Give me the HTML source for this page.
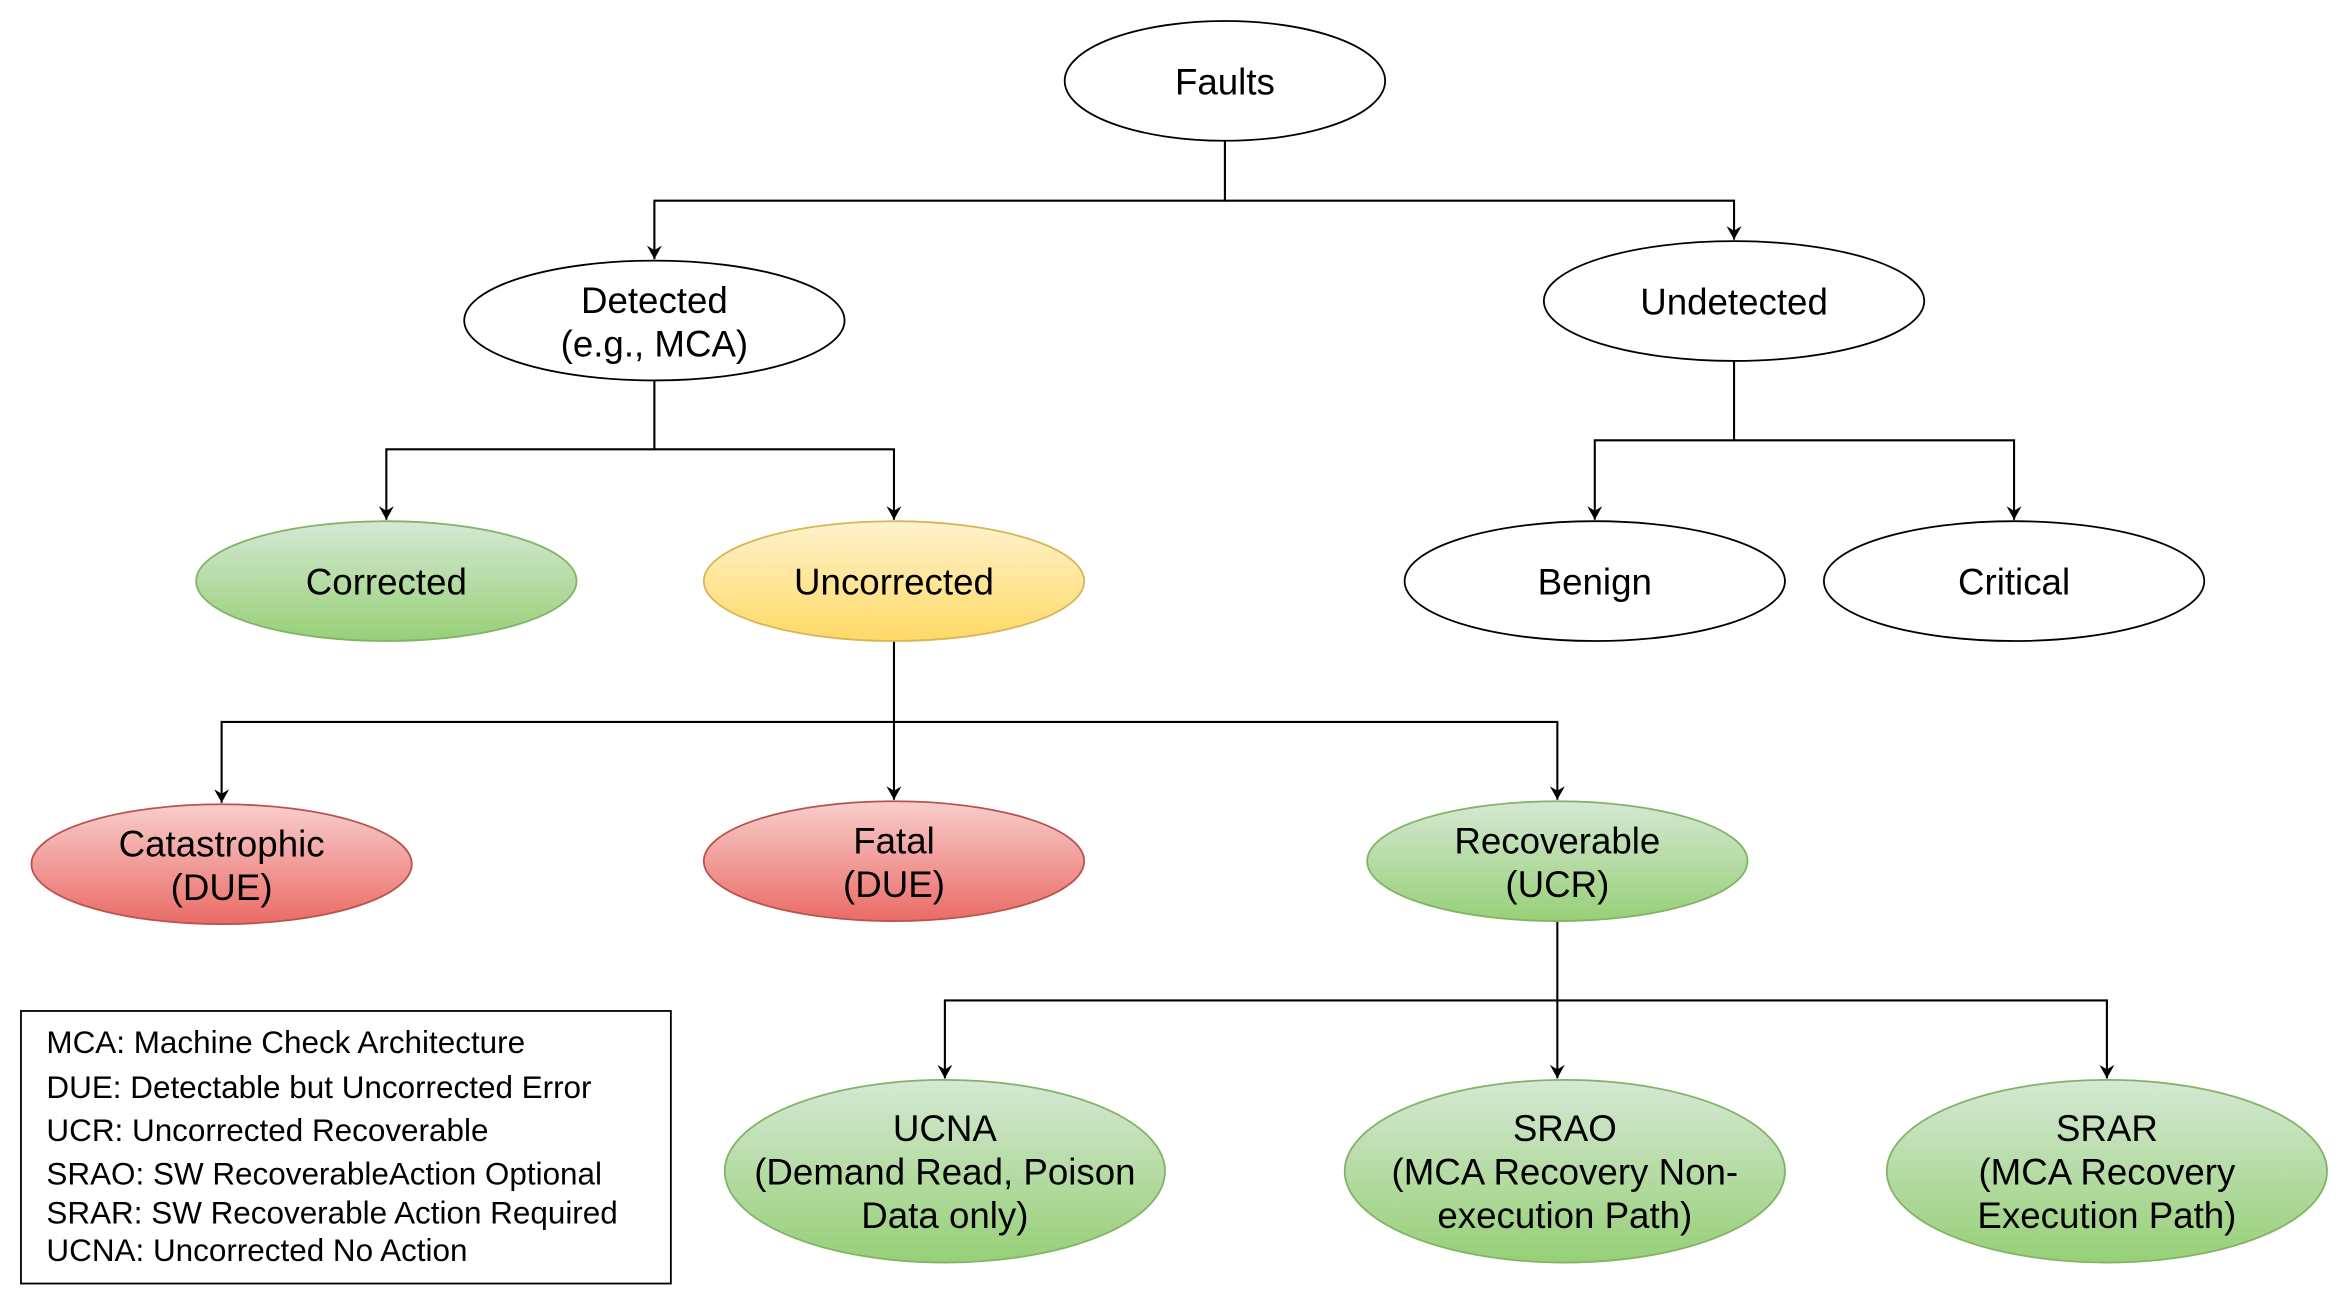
<!DOCTYPE html>
<html><head><meta charset="utf-8"><style>html,body{margin:0;padding:0;background:#fff}svg{display:block}</style></head>
<body>
<svg width="2348" height="1306" viewBox="0 0 1568 872" preserveAspectRatio="none" xmlns="http://www.w3.org/2000/svg" font-family="Liberation Sans, Arial, sans-serif">
<defs>
<linearGradient id="g" x1="0" y1="0" x2="0" y2="1"><stop offset="0" stop-color="#d5e8d4"/><stop offset="1" stop-color="#97d077"/></linearGradient>
<linearGradient id="y" x1="0" y1="0" x2="0" y2="1"><stop offset="0" stop-color="#fff2cc"/><stop offset="1" stop-color="#ffd966"/></linearGradient>
<linearGradient id="r" x1="0" y1="0" x2="0" y2="1"><stop offset="0" stop-color="#f8cecc"/><stop offset="1" stop-color="#ea6b66"/></linearGradient>
<marker id="a" markerWidth="10" markerHeight="10" refX="9" refY="5" orient="auto" markerUnits="userSpaceOnUse"><path d="M0,0 L9,5 L0,10 L3,5 Z" fill="#000"/></marker>
</defs>
<g stroke="#000" stroke-width="1.4" fill="none">
<path d="M818,94 V134 H437 V173" marker-end="url(#a)"/>
<path d="M818,134 H1158 V160" marker-end="url(#a)"/>
<path d="M437,254 V300 H258 V347" marker-end="url(#a)"/>
<path d="M437,300 H597 V347" marker-end="url(#a)"/>
<path d="M1158,241 V294 H1065 V347" marker-end="url(#a)"/>
<path d="M1158,294 H1345 V347" marker-end="url(#a)"/>
<path d="M597,428 V534" marker-end="url(#a)"/>
<path d="M597,482 H148 V536" marker-end="url(#a)"/>
<path d="M597,482 H1040 V534" marker-end="url(#a)"/>
<path d="M1040,615 V720" marker-end="url(#a)"/>
<path d="M1040,668 H631 V720" marker-end="url(#a)"/>
<path d="M1040,668 H1407 V720" marker-end="url(#a)"/>
</g>
<g stroke-width="1.2">
<ellipse cx="818" cy="54" rx="107" ry="40" fill="#fff" stroke="#000"/>
<ellipse cx="437" cy="214" rx="127" ry="40" fill="#fff" stroke="#000"/>
<ellipse cx="1158" cy="201" rx="127" ry="40" fill="#fff" stroke="#000"/>
<ellipse cx="258" cy="388" rx="127" ry="40" fill="url(#g)" stroke="#82b366"/>
<ellipse cx="597" cy="388" rx="127" ry="40" fill="url(#y)" stroke="#d6b656"/>
<ellipse cx="1065" cy="388" rx="127" ry="40" fill="#fff" stroke="#000"/>
<ellipse cx="1345" cy="388" rx="127" ry="40" fill="#fff" stroke="#000"/>
<ellipse cx="148" cy="577" rx="127" ry="40" fill="url(#r)" stroke="#b85450"/>
<ellipse cx="597" cy="575" rx="127" ry="40" fill="url(#r)" stroke="#b85450"/>
<ellipse cx="1040" cy="575" rx="127" ry="40" fill="url(#g)" stroke="#82b366"/>
<ellipse cx="631" cy="782" rx="147" ry="61" fill="url(#g)" stroke="#82b366"/>
<ellipse cx="1045" cy="782" rx="147" ry="61" fill="url(#g)" stroke="#82b366"/>
<ellipse cx="1407" cy="782" rx="147" ry="61" fill="url(#g)" stroke="#82b366"/>
</g>
<g font-size="24.5" text-anchor="middle" fill="#000">
<text x="818" y="63">Faults</text>
<text x="437" y="209">Detected</text><text x="437" y="238">(e.g., MCA)</text>
<text x="1158" y="210">Undetected</text>
<text x="258" y="397">Corrected</text>
<text x="597" y="397">Uncorrected</text>
<text x="1065" y="397">Benign</text>
<text x="1345" y="397">Critical</text>
<text x="148" y="572">Catastrophic</text><text x="148" y="601">(DUE)</text>
<text x="597" y="570">Fatal</text><text x="597" y="599">(DUE)</text>
<text x="1040" y="570">Recoverable</text><text x="1040" y="599">(UCR)</text>
<text x="631" y="762">UCNA</text><text x="631" y="791">(Demand Read, Poison</text><text x="631" y="820">Data only)</text>
<text x="1045" y="762">SRAO</text><text x="1045" y="791">(MCA Recovery Non-</text><text x="1045" y="820">execution Path)</text>
<text x="1407" y="762">SRAR</text><text x="1407" y="791">(MCA Recovery</text><text x="1407" y="820">Execution Path)</text>
</g>
<rect x="14" y="675" width="434" height="182" fill="#fff" stroke="#000" stroke-width="1.2"/>
<g font-size="21" fill="#000">
<text x="31" y="703">MCA: Machine Check Architecture</text>
<text x="31" y="733">DUE: Detectable but Uncorrected Error</text>
<text x="31" y="762">UCR: Uncorrected Recoverable</text>
<text x="31" y="791">SRAO: SW RecoverableAction Optional</text>
<text x="31" y="817">SRAR: SW Recoverable Action Required</text>
<text x="31" y="842">UCNA: Uncorrected No Action</text>
</g>
</svg>
</body></html>
